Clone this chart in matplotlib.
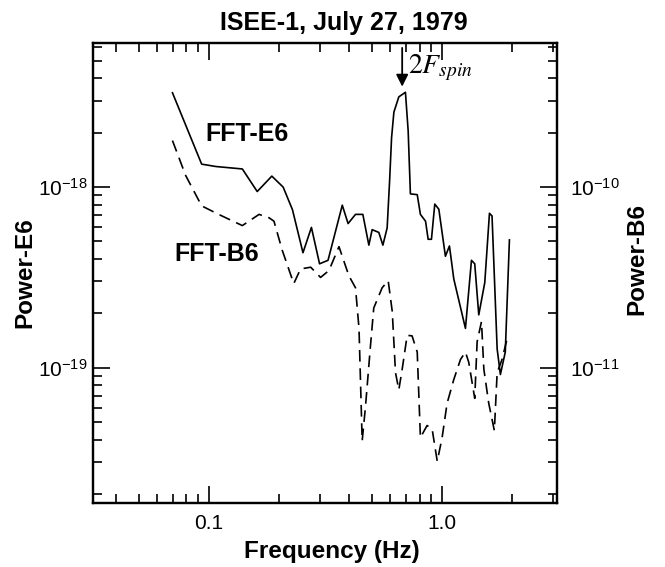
import matplotlib
matplotlib.use("Agg")
import matplotlib.pyplot as plt
from matplotlib.ticker import LogLocator, FixedLocator, FixedFormatter, NullFormatter

plt.rcParams['font.family'] = ['Liberation Sans', 'DejaVu Sans']
plt.rcParams['axes.unicode_minus'] = False

# ---- data ----
freq_e6 = [0.0697, 0.0930, 0.107, 0.139, 0.161, 0.186, 0.208, 0.228, 0.253, 0.275,
           0.298, 0.324, 0.373, 0.395, 0.425, 0.457, 0.485, 0.501, 0.535, 0.557,
           0.581, 0.595, 0.607, 0.621, 0.652, 0.696, 0.715, 0.731, 0.782, 0.807,
           0.849, 0.871, 0.900, 0.930, 0.968, 1.033, 1.075, 1.122, 1.259, 1.336,
           1.380, 1.436, 1.524, 1.596, 1.637, 1.722, 1.778, 1.866, 1.944]
power_e6 = [3.33e-18, 1.34e-18, 1.30e-18, 1.26e-18, 9.45e-19, 1.15e-18, 1.00e-18, 7.5e-19,
            4.33e-19, 5.98e-19, 3.76e-19, 3.93e-19, 7.94e-19, 6.28e-19, 7.06e-19, 7.06e-19,
            4.77e-19, 5.81e-19, 5.61e-19, 4.77e-19, 5.94e-19, 1.07e-18, 1.88e-18, 2.6e-18,
            3.16e-18, 3.35e-18, 2.05e-18, 9.17e-19, 9.08e-19, 7.06e-19, 6.47e-19, 5.14e-19,
            5.14e-19, 8.05e-19, 7.54e-19, 4.14e-19, 4.72e-19, 3.1e-19, 1.65e-19, 3.93e-19,
            3.76e-19, 1.96e-19, 2.96e-19, 7.16e-19, 6.92e-19, 1.27e-19, 9.16e-20, 1.22e-19,
            5.1e-19]

freq_b6 = [0.0697, 0.0794, 0.0930, 0.110, 0.139, 0.164, 0.181, 0.190, 0.206, 0.231,
           0.247, 0.273, 0.301, 0.327, 0.361, 0.398, 0.425, 0.440, 0.454, 0.469,
           0.493, 0.509, 0.553, 0.587, 0.611, 0.631, 0.652, 0.674, 0.708, 0.743,
           0.782, 0.807, 0.862, 0.906, 0.953, 1.000, 1.050, 1.122, 1.199, 1.259,
           1.301, 1.380, 1.413, 1.475, 1.510, 1.585, 1.675, 1.722, 1.807, 1.900]
power_b6 = [1.81e-10, 1.16e-10, 7.87e-11, 7.06e-11, 6.12e-11, 7.06e-11, 6.76e-11, 6.47e-11,
            4.48e-11, 2.92e-11, 3.52e-11, 3.60e-11, 3.16e-11, 3.45e-11, 4.68e-11, 3.23e-11,
            2.77e-11, 1.65e-11, 3.93e-12, 6.07e-12, 1.33e-11, 2.14e-11, 2.77e-11, 3.03e-11,
            2.05e-11, 9.38e-12, 7.54e-12, 9.8e-12, 1.51e-11, 1.50e-11, 1.22e-11, 4.1e-12,
            4.78e-12, 4.57e-12, 3.03e-12, 4.1e-12, 6.34e-12, 8.59e-12, 1.11e-11, 1.22e-11,
            1.07e-11, 6.76e-12, 1.39e-11, 1.8e-11, 9.8e-12, 6.34e-12, 4.48e-12, 9.38e-12,
            1.11e-11, 1.45e-11]

x_major = [0.1, 1.0]
x_major_labels = ['0.1', '1.0']
spin_freq = 0.674

fig = plt.figure(figsize=(6.65, 5.67), dpi=100)
ax = fig.add_axes([93/665, 1 - 503/567, 464/665, 460/567])
ax.set_xscale('log')
ax.set_yscale('log')
ax.set_xlim(0.0318, 3.11)
ax.set_ylim(1.78e-20, 6.28e-18)

ax.plot(freq_e6, power_e6, color='black', lw=1.2)

ax2 = ax.twinx()
ax2.set_yscale('log')
ax2.set_ylim(1.78e-12, 6.28e-10)
ax2.plot(freq_b6, power_b6, color='black', lw=1.2, linestyle=(0, (7, 4)))

# x ticks
ax.xaxis.set_major_locator(FixedLocator(x_major))
ax.xaxis.set_major_formatter(FixedFormatter(x_major_labels))
ax.xaxis.set_minor_locator(LogLocator(base=10, subs=[2, 3, 4, 5, 6, 7, 8, 9]))
ax.xaxis.set_minor_formatter(NullFormatter())
for a in (ax, ax2):
    a.yaxis.set_minor_locator(LogLocator(base=10, subs=[2, 3, 4, 5, 6, 7, 8, 9]))
    a.yaxis.set_minor_formatter(NullFormatter())

ax.tick_params(which='both', direction='in', top=True, right=False, width=1.2)
ax.tick_params(which='major', length=12.5)
ax.tick_params(which='minor', length=6.5)
ax.tick_params(axis='x', which='major', labelsize=15, pad=8)
ax.tick_params(axis='y', which='major', labelsize=15, pad=4)
ax2.tick_params(which='both', direction='in', width=1.2)
ax2.tick_params(which='major', length=12.5, labelsize=15, pad=9)
ax2.tick_params(which='minor', length=6.5)

for a in (ax, ax2):
    for s in a.spines.values():
        s.set_linewidth(1.6)

ax.set_xlabel('Frequency (Hz)', fontsize=17.5, fontweight='bold', va='center')
ax.xaxis.set_label_coords(0.515, -0.105)
ax.set_ylabel('Power-E6', fontsize=17.5, fontweight='bold', va='center')
ax.yaxis.set_label_coords(-0.147, 0.5)
ax2.set_ylabel('Power-B6', fontsize=17.5, fontweight='bold', va='center')
ax2.yaxis.set_label_coords(1.172, 0.53)

fig.text(344/665, 1 - 23/567, 'ISEE-1, July 27, 1979', ha='center', va='center',
         fontsize=18, fontweight='bold')

ax.text(0.0961, 1.96e-18, 'FFT-E6', fontsize=18, fontweight='bold', va='center', ha='left')
ax.text(0.0708, 4.25e-19, 'FFT-B6', fontsize=18, fontweight='bold', va='center', ha='left')

ax.annotate('', xy=(spin_freq, 3.6e-18), xytext=(spin_freq, 5.9e-18),
            arrowprops=dict(arrowstyle='-|>', color='black', lw=1.3,
                            mutation_scale=18, shrinkA=0, shrinkB=0))
ax.text(0.712, 4.55e-18, r'$2F_{spin}$', math_fontfamily='stix', fontsize=20,
        va='center', ha='left')

fig.savefig('out.png', dpi=100)
